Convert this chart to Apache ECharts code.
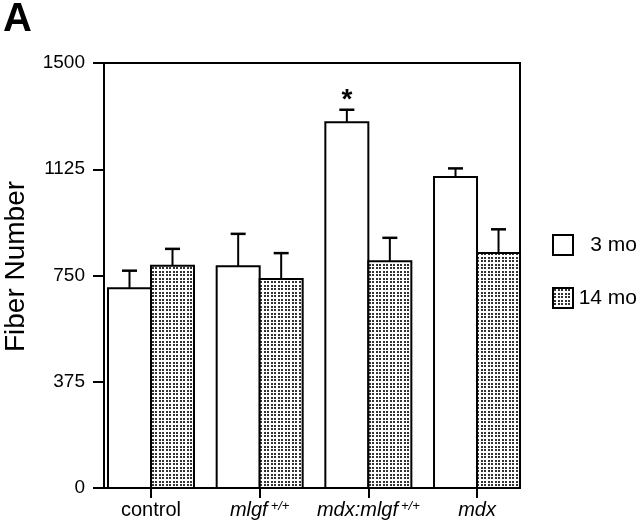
<!DOCTYPE html>
<html>
<head>
<meta charset="utf-8">
<script src="https://cdn.jsdelivr.net/npm/echarts@6/dist/echarts.min.js"></script>
<style>
html,body{margin:0;padding:0;background:#fff;}
#chart{width:640px;height:525px;}
</style>
</head>
<body>
<div id="chart"></div>
<script>
// ---- data ----
const categories = ['control', 'mlgf', 'mdx:mlgf', 'mdx'];
const categoryItalic = [false, true, true, true];
const categorySup = ['', '+/+', '+/+', ''];
const seriesNames = ['3 mo', '14 mo'];
const mean3mo = [705, 783, 1291, 1098];
const upper3mo = [767, 897, 1335, 1128];
const mean14mo = [784, 738, 800, 829];
const upper14mo = [844, 829, 883, 913];
const marks3mo = ['', '', '*', ''];
const yTicks = [0, 375, 750, 1125, 1500];

// ---- pattern ----
function makePattern() {
  const c = document.createElement('canvas');
  c.width = 7; c.height = 7;
  const g = c.getContext('2d');
  g.fillStyle = '#ffffff';
  g.fillRect(0, 0, 7, 7);
  g.fillStyle = '#333333';
  [[1,1],[5,1],[1,5],[5,5]].forEach(p => g.fillRect(p[0], p[1], 2, 2));
  return c;
}
const dotFill = { image: makePattern(), repeat: 'repeat' };

const FONT = 'Liberation Sans';
const BAR_W = 43;
const idx = categories.map((_, i) => i);
const fills = ['#ffffff', dotFill];

const chart = echarts.init(document.getElementById('chart'), null, { renderer: 'canvas' });

// side: -1 = left bar of the pair, 1 = right bar
function barRender(side) {
  return function (params, api) {
    const x = api.value(0), mean = api.value(1);
    const p0 = api.coord([x, 0]);
    const p1 = api.coord([x, mean]);
    const left = side < 0 ? p0[0] - BAR_W : p0[0];
    return {
      type: 'rect',
      shape: { x: left, y: p1[1], width: BAR_W, height: p0[1] - p1[1] },
      style: { fill: side < 0 ? fills[0] : fills[1], stroke: '#000', lineWidth: 2 }
    };
  };
}

function errRender(side, marks) {
  return function (params, api) {
    const x = api.value(0), top = api.value(1), mean = api.value(2);
    const pTop = api.coord([x, top]);
    const pMean = api.coord([x, mean]);
    const cx = pTop[0] + side * BAR_W / 2;
    const children = [
      { type: 'line', shape: { x1: cx, y1: pMean[1], x2: cx, y2: pTop[1] }, style: { stroke: '#000', lineWidth: 2 } },
      { type: 'line', shape: { x1: cx - 7.5, y1: pTop[1], x2: cx + 7.5, y2: pTop[1] }, style: { stroke: '#000', lineWidth: 2.5 } }
    ];
    const m = marks ? marks[params.dataIndex] : '';
    if (m) {
      children.push({ type: 'text', style: { text: m, x: cx, y: pTop[1] - 9, align: 'center', verticalAlign: 'middle', font: 'bold 28px ' + FONT, fill: '#000' } });
    }
    return { type: 'group', children };
  };
}

const option = {
  animation: false,
  backgroundColor: '#fff',
  title: { text: 'A', left: 3, top: 0, padding: 0, textStyle: { fontFamily: FONT, fontSize: 40, fontWeight: 'bold', color: '#000' } },
  grid: { left: 104, right: 120, top: 63, bottom: 37, containLabel: false, outerBoundsMode: 'none', show: true, borderColor: '#000', borderWidth: 2, backgroundColor: 'transparent' },
  legend: {
    orient: 'vertical', left: 552, top: 234, padding: 0, itemWidth: 20, itemHeight: 20, itemGap: 31,
    data: [
      { name: seriesNames[0], icon: 'rect', itemStyle: { color: fills[0], borderColor: '#000', borderWidth: 2 } },
      { name: seriesNames[1], icon: 'rect', itemStyle: { color: fills[1], borderColor: '#000', borderWidth: 2 } }
    ],
    formatter: '{t|{name}}',
    textStyle: { fontFamily: FONT, fontSize: 21, color: '#000', rich: { t: { width: 59, align: 'right', fontFamily: FONT, fontSize: 21 } } }
  },
  xAxis: {
    type: 'value', min: -0.4325, max: 3.3955,
    axisLine: { show: true, onZero: false, lineStyle: { color: '#000', width: 2 } },
    axisTick: { show: true, length: 10, lineStyle: { color: '#000', width: 2 }, customValues: idx },
    splitLine: { show: false },
    axisLabel: {
      customValues: idx, margin: 12, color: '#000', fontFamily: FONT, fontSize: 20,
      formatter: function (v) {
        const i = Math.round(v);
        const base = categoryItalic[i] ? '{i|' + categories[i] + '}' : '{n|' + categories[i] + '}';
        return base + (categorySup[i] ? '{s|' + categorySup[i] + '}' : '');
      },
      rich: {
        n: { fontFamily: FONT, fontSize: 20, color: '#000' },
        i: { fontFamily: FONT, fontSize: 20, fontStyle: 'italic', color: '#000' },
        s: { fontFamily: FONT, fontSize: 13, fontStyle: 'italic', color: '#000', verticalAlign: 'top', padding: [0, 0, 0, 3] }
      }
    }
  },
  yAxis: {
    type: 'value', min: 0, max: 1500, interval: 375,
    name: 'Fiber Number', nameLocation: 'middle', nameGap: 74,
    nameTextStyle: { fontFamily: FONT, fontSize: 28, color: '#000', padding: [0, 0, 0, 18] },
    axisLine: { show: true, onZero: false, lineStyle: { color: '#000', width: 2 } },
    axisTick: { show: true, length: 11, lineStyle: { color: '#000', width: 2 } },
    splitLine: { show: false },
    axisLabel: { margin: 19, color: '#000', fontFamily: FONT, fontSize: 19,
      customValues: yTicks, formatter: function (v) { return String(v); } }
  },
  series: [
    { name: seriesNames[0], type: 'custom', renderItem: barRender(-1), data: idx.map(i => [i, mean3mo[i]]), encode: { x: 0, y: 1 }, itemStyle: { color: '#fff', borderColor: '#000', borderWidth: 2 }, z: 2, silent: true },
    { name: seriesNames[1], type: 'custom', renderItem: barRender(1), data: idx.map(i => [i, mean14mo[i]]), encode: { x: 0, y: 1 }, itemStyle: { color: '#ccc', borderColor: '#000', borderWidth: 2 }, z: 2, silent: true },
    { type: 'custom', renderItem: errRender(-1, marks3mo), data: idx.map(i => [i, upper3mo[i], mean3mo[i]]), encode: { x: 0, y: 1 }, z: 3, silent: true },
    { type: 'custom', renderItem: errRender(1, null), data: idx.map(i => [i, upper14mo[i], mean14mo[i]]), encode: { x: 0, y: 1 }, z: 3, silent: true }
  ]
};
chart.setOption(option);
</script>
</body>
</html>
